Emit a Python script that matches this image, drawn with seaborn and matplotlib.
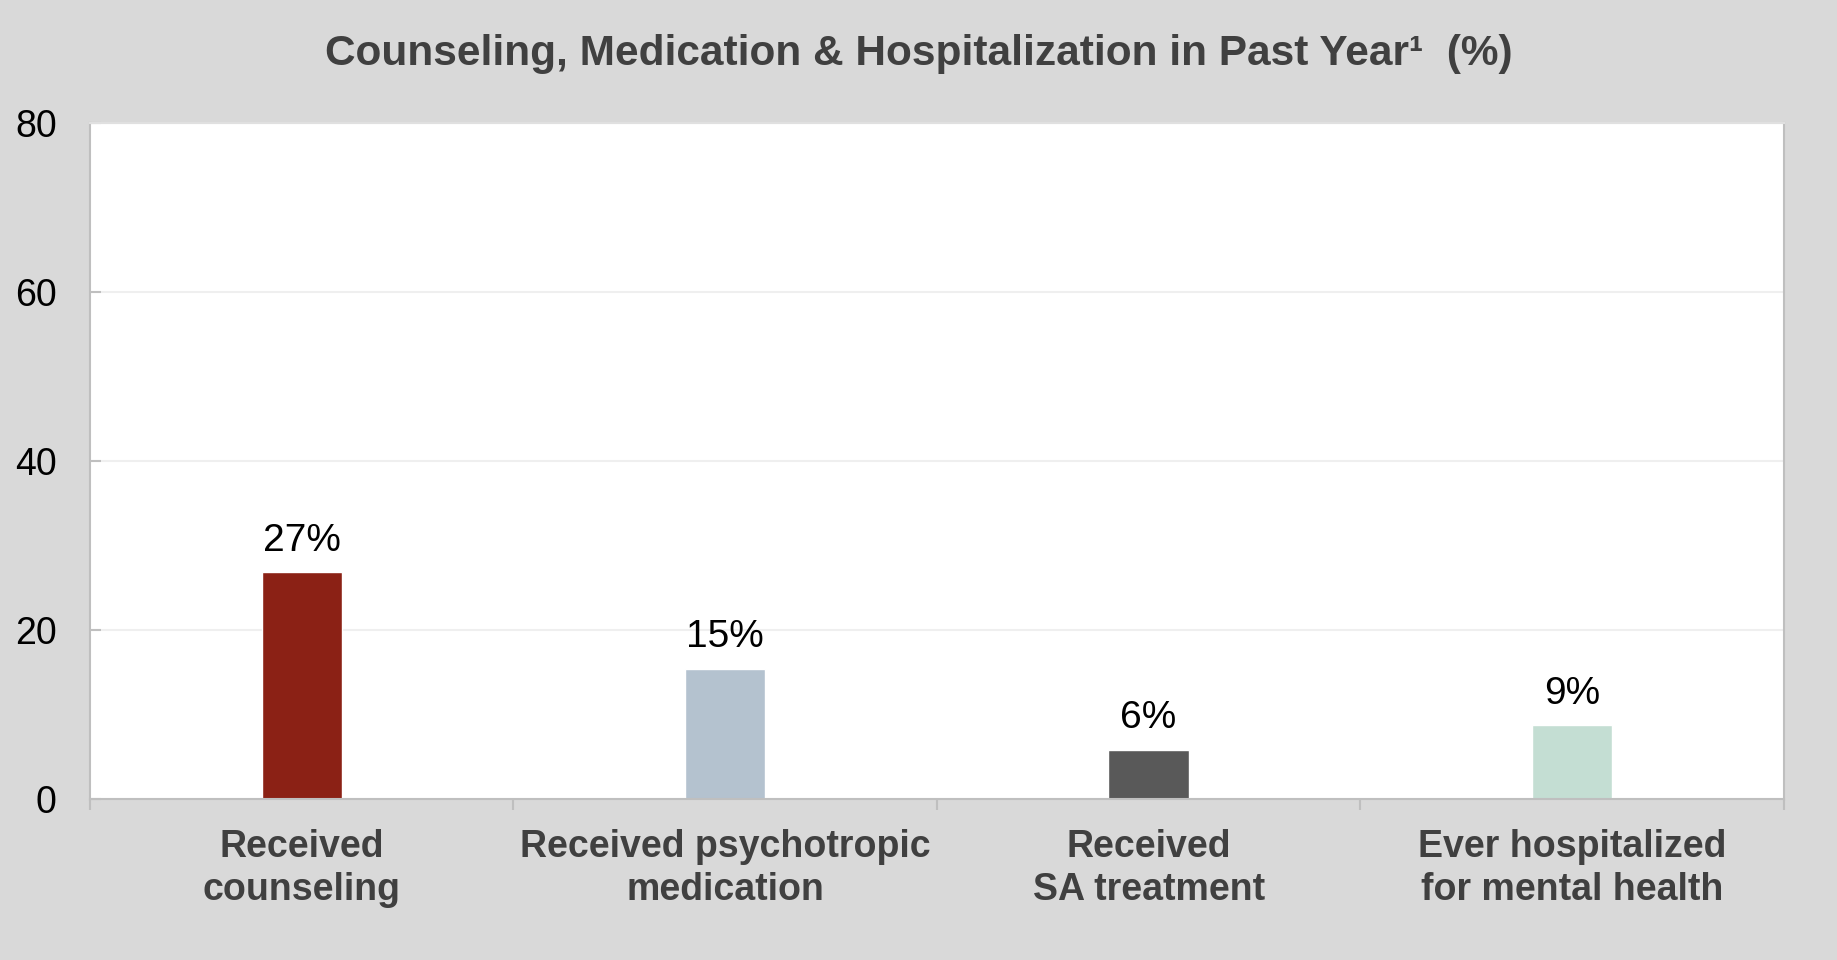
import seaborn as sns
import pandas as pd
from matplotlib import pyplot as plt

categories = ["Received\ncounseling", "Received psychotropic\nmedication",
              "Received\nSA treatment", "Ever hospitalized\nfor mental health"]
values = [26.8, 15.4, 5.8, 8.7]
value_labels = ["27%", "15%", "6%", "9%"]
bar_colors = ["#8B2115", "#B4C2CF", "#595959", "#C4DED3"]
y_ticks = [0, 20, 40, 60, 80]

df = pd.DataFrame({"category": categories, "value": values})

sns.set_theme(style="white")
plt.rcParams["font.family"] = ["Liberation Sans", "DejaVu Sans"]

fig = plt.figure(figsize=(18.37, 9.6), dpi=100, facecolor="#D9D9D9")
ax = fig.add_axes([0.049, 0.168, 0.922, 0.704])
ax.set_facecolor("white")

sns.barplot(data=df, x="category", y="value", hue="category",
            palette=bar_colors, width=0.19, legend=False, ax=ax,
            saturation=1)

for i, (v, lab) in enumerate(zip(values, value_labels)):
    ax.text(i, v + 1.6, lab, ha="center", va="bottom", fontsize=28, color="black")

ax.set_ylim(0, 80)
ax.set_xlim(-0.5, 3.5)
ax.set_yticks(y_ticks)
ax.set_yticklabels([str(t) for t in y_ticks], fontsize=27, color="black")
ax.yaxis.grid(True, color="#EFEFEF", linewidth=1.5)
ax.set_axisbelow(True)

# category boundaries as ticks, labels in between
ax.set_xticks([-0.5, 0.5, 1.5, 2.5, 3.5])
ax.set_xticklabels([])
ax.set_xticks(range(len(categories)), minor=True)
ax.set_xticklabels(categories, minor=True, fontsize=27, fontweight="bold",
                   color="#404040", linespacing=1.25)
ax.tick_params(axis="x", which="major", direction="out", length=8,
               width=1.5, color="#BFBFBF", bottom=True)
ax.tick_params(axis="x", which="minor", length=0, pad=22, bottom=True)
ax.tick_params(axis="y", direction="in", length=8, width=1.5,
               color="#BFBFBF", pad=24, left=True)

for side in ["left", "bottom", "right", "top"]:
    ax.spines[side].set_color("#BFBFBF")
    ax.spines[side].set_linewidth(1.5)
ax.spines["top"].set_color("#E0E0E0")

ax.set_xlabel("")
ax.set_ylabel("")

fig.text(0.5, 0.944, "Counseling, Medication & Hospitalization in Past Year\u00b9  (%)",
         ha="center", va="center", fontsize=30.5, fontweight="bold", color="#404040")

plt.savefig("out.png", dpi=100, facecolor=fig.get_facecolor())
